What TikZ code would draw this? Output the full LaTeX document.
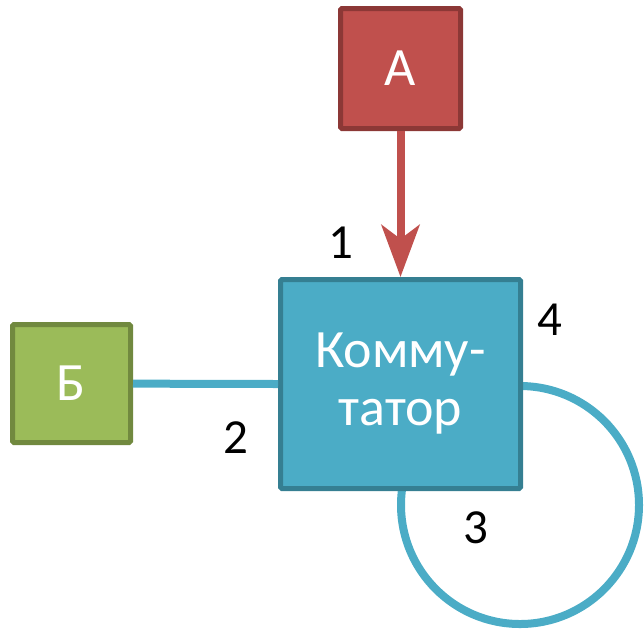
\documentclass[tikz,border=0pt]{standalone}
\usepackage{fontspec}
\setmainfont{Carlito}
\usetikzlibrary{arrows.meta,backgrounds}

\definecolor{redfill}{HTML}{C0504D}
\definecolor{reddraw}{HTML}{8C3836}
\definecolor{greenfill}{HTML}{9BBB59}
\definecolor{greendraw}{HTML}{71893F}
\definecolor{bluefill}{HTML}{4BACC6}
\definecolor{bluedraw}{HTML}{357F92}

\begin{document}
\begin{tikzpicture}[x=1pt,y=-1pt,
		box/.style={rectangle,rounded corners=1.5pt,line width=5pt,text=white,inner sep=0pt},
		num/.style={font=\fontsize{49}{54}\selectfont}]
		\useasboundingbox (0,0) rectangle (644,633);
		
		\node (a) at (400.5,68.5) [box,fill=redfill,draw=reddraw,minimum size=120pt,font=\fontsize{54}{58}\selectfont] {А};
		\node (b) at (71.5,383.5) [box,fill=greenfill,draw=greendraw,minimum size=118pt,font=\fontsize{54}{58}\selectfont] {Б};
		\node (sw) at (400.5,384) [box,fill=bluefill,draw=bluedraw,minimum width=240pt,minimum height=209pt,align=center,font=\fontsize{54}{58}\selectfont] {Комму-\\татор};
		
		%connections to the switch
		\draw [redfill,line width=8pt,-{Stealth[length=52pt,width=38pt,inset=14pt]}] (a) -- (sw.north);
		\draw [bluefill,line width=8pt] (b) -- (sw.west);
		
		% loop going back into the switch
		\coordinate (loop) at (520,505);
		\begin{scope}[on background layer]
			\draw [bluefill,line width=8pt] (loop) circle (119pt);
		\end{scope}
		
		\node (l1) at (341,243) [num] {1};
		\node (l2) at (236,438) [num] {2};
		\node (l3) at (476,528) [num] {3};
		\node (l4) at (550,320) [num] {4};
	\end{tikzpicture}
\end{document}
